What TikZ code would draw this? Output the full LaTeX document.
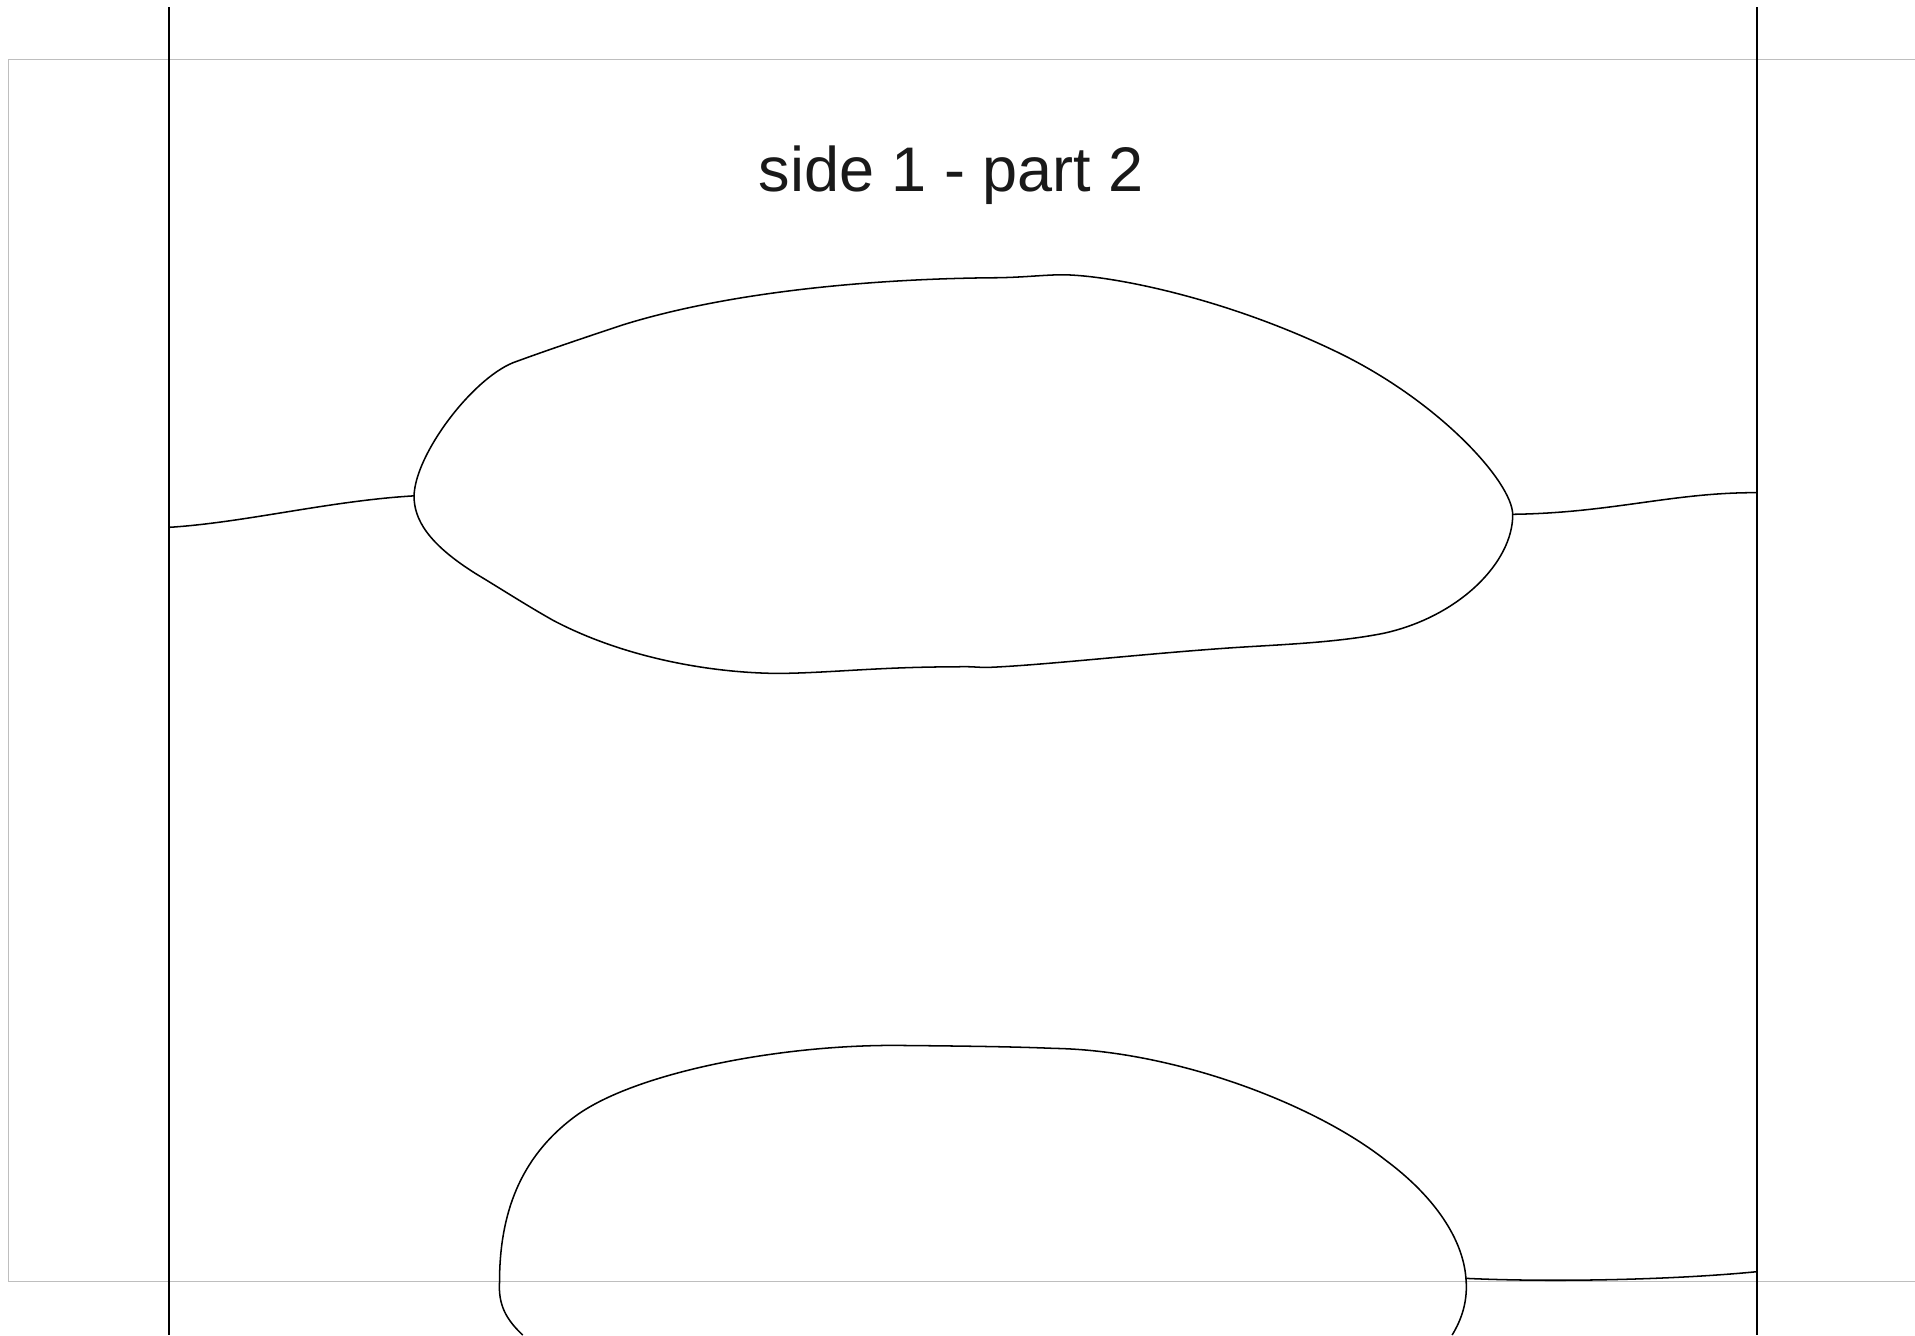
\documentclass[tikz,border=0pt]{standalone}
\usepackage{fontspec}
\setmainfont{Liberation Sans}
\definecolor{framegray}{RGB}{190,190,190}
\tikzset{
  curve/.style={draw=black, line width=1.25pt, line join=round},
  wall/.style={draw=black, line width=1.6pt},
  frame/.style={draw=framegray, line width=0.9pt},
  titletext/.style={font=\fontsize{51.6}{60}\selectfont, text=black!90, anchor=base, inner sep=0pt}
}
\begin{document}
\begin{tikzpicture}[x=1pt,y=-1pt]
\useasboundingbox (0,0) rectangle (1568,1093.1);
% frame
\draw[frame] (1568,49) -- (7,49) -- (7,1049) -- (1568,1049);
% walls
\coordinate (wlT) at (138,6);
\coordinate (wlB) at (138,1093.1);
\coordinate (wrT) at (1439,6);
\coordinate (wrB) at (1439,1093.1);
\draw[wall] (wlT) -- (wlB);
\draw[wall] (wrT) -- (wrB);
% title
\node[titletext] (title) at (779,157) {side 1 - part 2};
% junctions
\coordinate (jL) at (339,406);
\coordinate (jR) at (1238.6,421.1);
\coordinate (jB) at (1200.3,1046.7);
\coordinate (wL) at (138,431.8);
\coordinate (wR) at (1439,403.4);
\coordinate (wB) at (1439,1041.2);
% upper blob
\draw[curve] (jL) .. controls (340,372) and (386,311) .. (420,297)
  .. controls (450,286) and (480,276) .. (510,266)
  .. controls (600,238) and (720,228) .. (817,227.4)
  .. controls (840,227) and (855,225) .. (870,225)
  .. controls (905,225) and (1000,242) .. (1097,289.3)
  .. controls (1180,330) and (1238,395) .. (jR)
  .. controls (1239,460) and (1195,505) .. (1132.6,518.6)
  .. controls (1090,527) and (1040,528) .. (1000,531)
  .. controls (930,536) and (850,545) .. (808,546.5)
  .. controls (800,546.5) and (795,545.5) .. (783,546)
  .. controls (720,546) and (680,551) .. (637.5,551.4)
  .. controls (580,551) and (510,538) .. (453,508)
  .. controls (430,495) and (410,482) .. (390,470)
  .. controls (350,445) and (339,425) .. (jL) -- cycle;
% lower blob
\draw[curve] (428,1093.1) .. controls (414,1080) and (408,1068) .. (409,1050)
  .. controls (409,995) and (425,948) .. (471,914)
  .. controls (520,878) and (640,855) .. (737,856)
  .. controls (790,856.5) and (830,857) .. (863,858.4)
  .. controls (960,860) and (1075,903) .. (1134.6,950)
  .. controls (1175,980) and (1198,1015) .. (jB)
  .. controls (1202,1065) and (1197,1080) .. (1189,1093.1);
% connectors
\draw[curve] (wL) .. controls (200,428) and (270,410) .. (jL);
\draw[curve] (jR) .. controls (1320,420) and (1370,403) .. (wR);
\draw[curve] (jB) .. controls (1270,1050) and (1370,1048) .. (wB);
\end{tikzpicture}
\end{document}
